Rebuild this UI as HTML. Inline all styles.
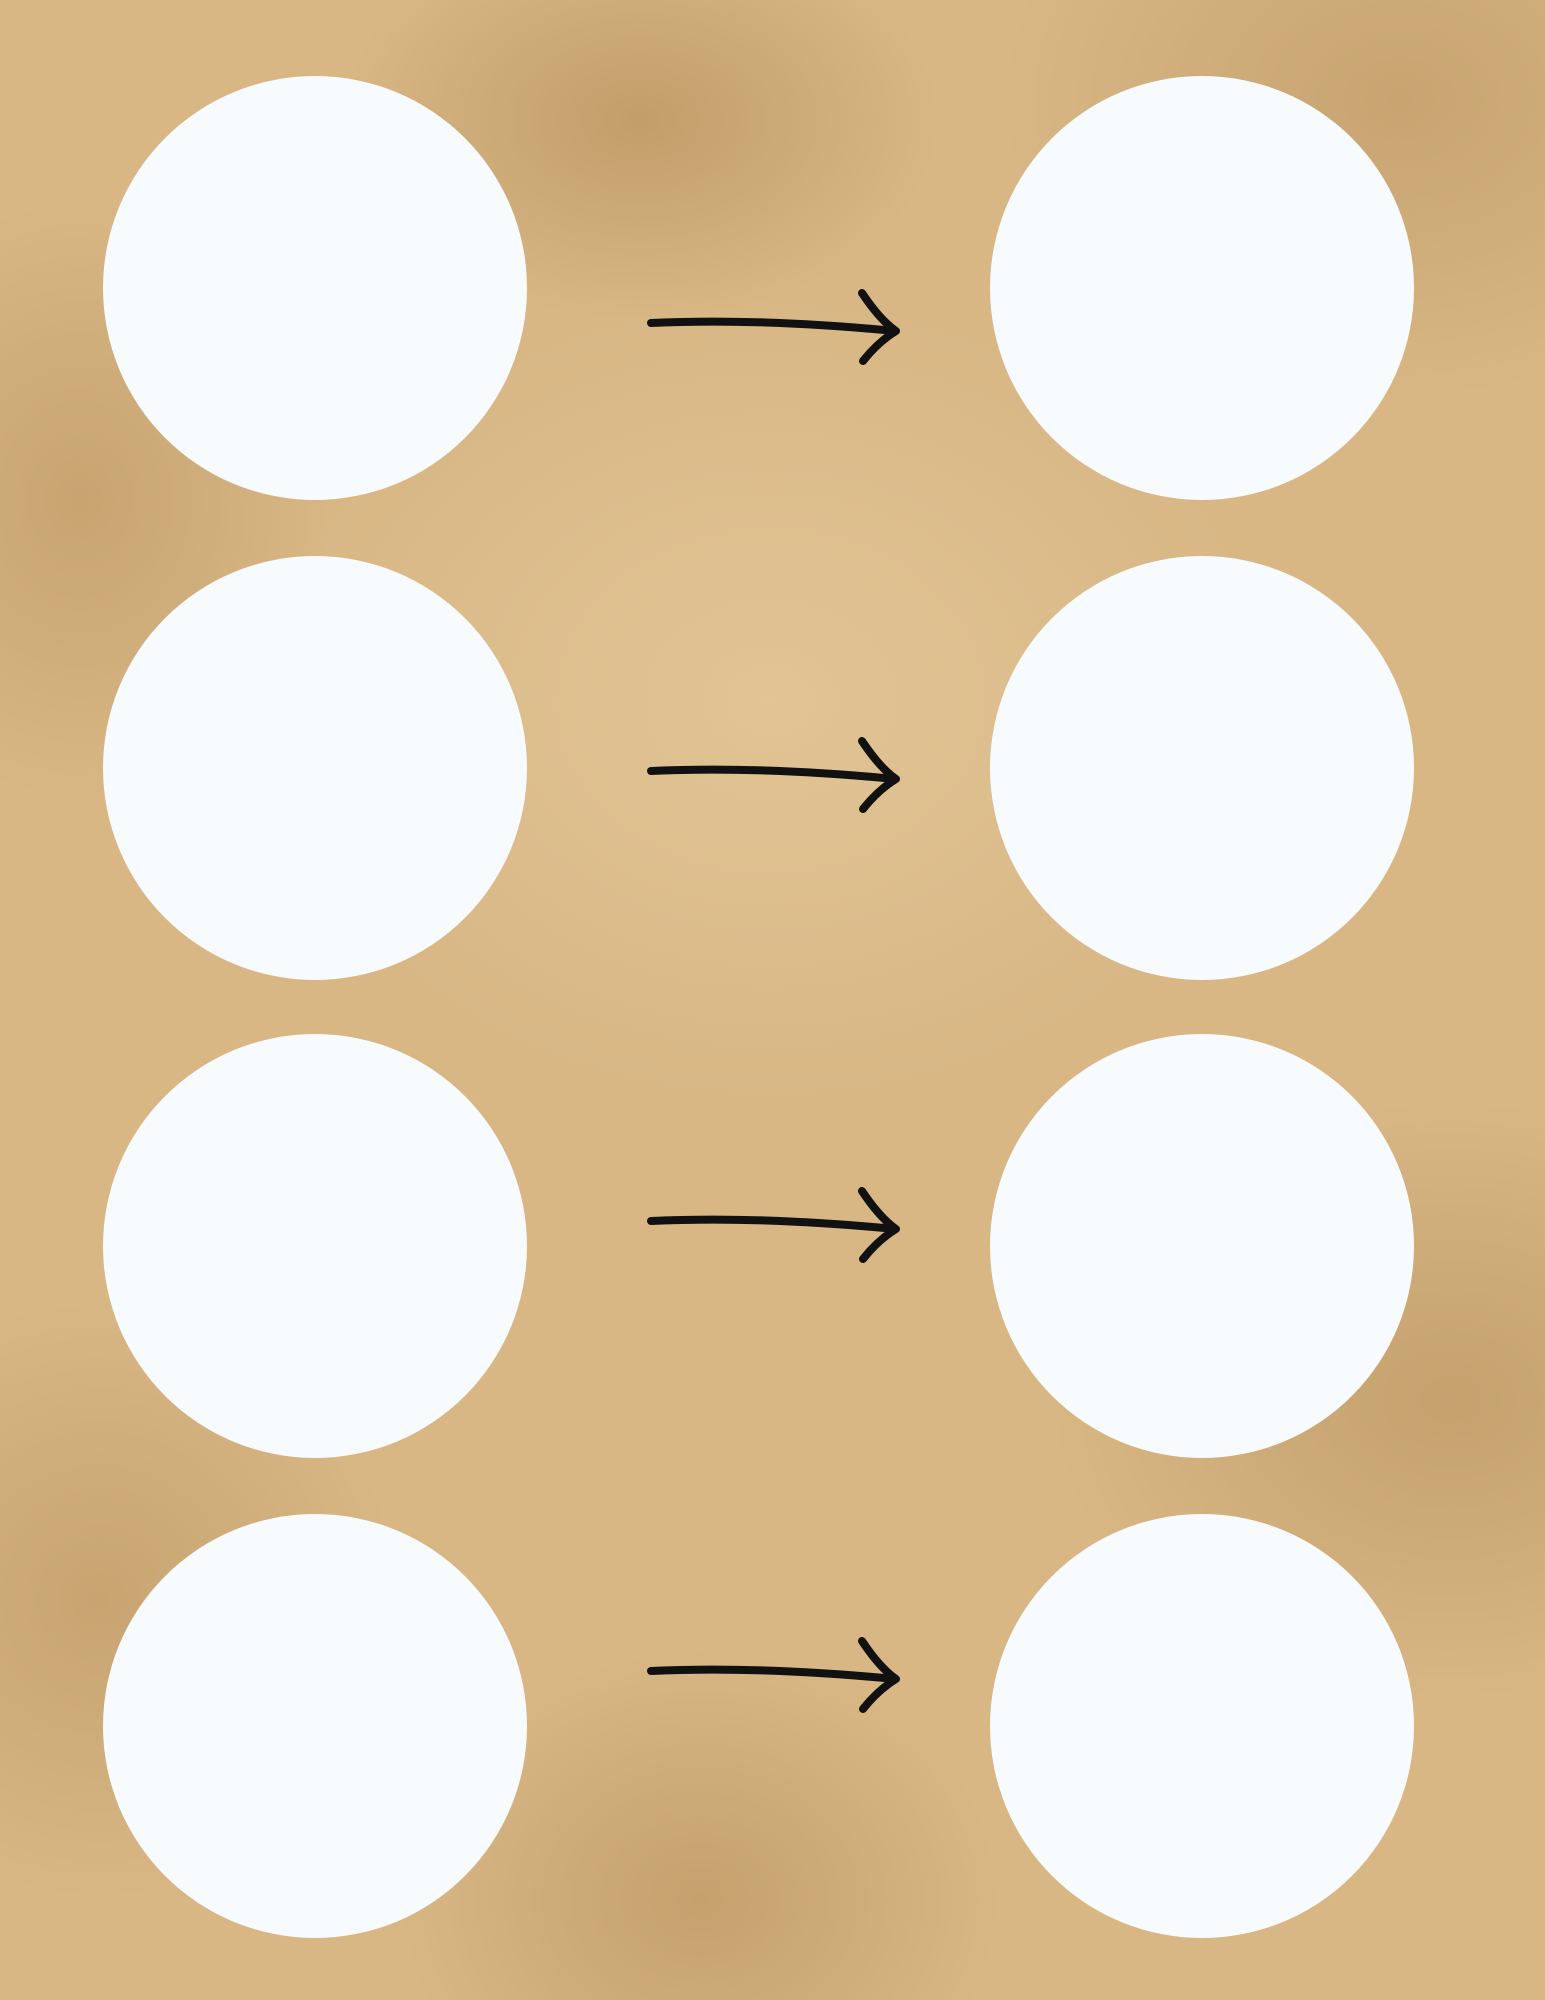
<!DOCTYPE html>
<html>
<head>
<meta charset="utf-8">
<style>
html,body{margin:0;padding:0;}
body{width:1545px;height:2000px;overflow:hidden;position:relative;
background:
radial-gradient(ellipse 300px 200px at 640px 120px, rgba(150,110,55,0.35), transparent),
radial-gradient(ellipse 250px 300px at 80px 500px, rgba(160,120,65,0.3), transparent),
radial-gradient(ellipse 400px 300px at 1450px 1400px, rgba(150,110,55,0.3), transparent),
radial-gradient(ellipse 300px 250px at 700px 1900px, rgba(150,110,55,0.3), transparent),
radial-gradient(ellipse 500px 400px at 770px 700px, rgba(238,212,168,0.45), transparent),
radial-gradient(ellipse 400px 300px at 1400px 100px, rgba(160,120,65,0.3), transparent),
radial-gradient(ellipse 300px 300px at 100px 1600px, rgba(160,120,65,0.3), transparent),
#d8b785;}
.c{position:absolute;width:424px;height:424px;border-radius:50%;background:#f8fbfd;}
svg{position:absolute;left:0;top:0;}
</style>
</head>
<body>
<div class="c" style="left:103px;top:76px"></div>
<div class="c" style="left:990px;top:76px"></div>
<div class="c" style="left:103px;top:556px"></div>
<div class="c" style="left:990px;top:556px"></div>
<div class="c" style="left:103px;top:1034px"></div>
<div class="c" style="left:990px;top:1034px"></div>
<div class="c" style="left:103px;top:1514px"></div>
<div class="c" style="left:990px;top:1514px"></div>
<svg width="1545" height="2000">
<g fill="none" stroke="#111" stroke-width="8" stroke-linecap="round" stroke-linejoin="round">
<g transform="translate(0,0)">
<path d="M651 323 Q760 318 895 331"/><path d="M862 293 Q880 320 896 331 Q878 342 863 361"/>
</g>
<g transform="translate(0,448)">
<path d="M651 323 Q760 318 895 331"/><path d="M862 293 Q880 320 896 331 Q878 342 863 361"/>
</g>
<g transform="translate(0,898)">
<path d="M651 323 Q760 318 895 331"/><path d="M862 293 Q880 320 896 331 Q878 342 863 361"/>
</g>
<g transform="translate(0,1348)">
<path d="M651 323 Q760 318 895 331"/><path d="M862 293 Q880 320 896 331 Q878 342 863 361"/>
</g>
</g>
</svg>
</body>
</html>
